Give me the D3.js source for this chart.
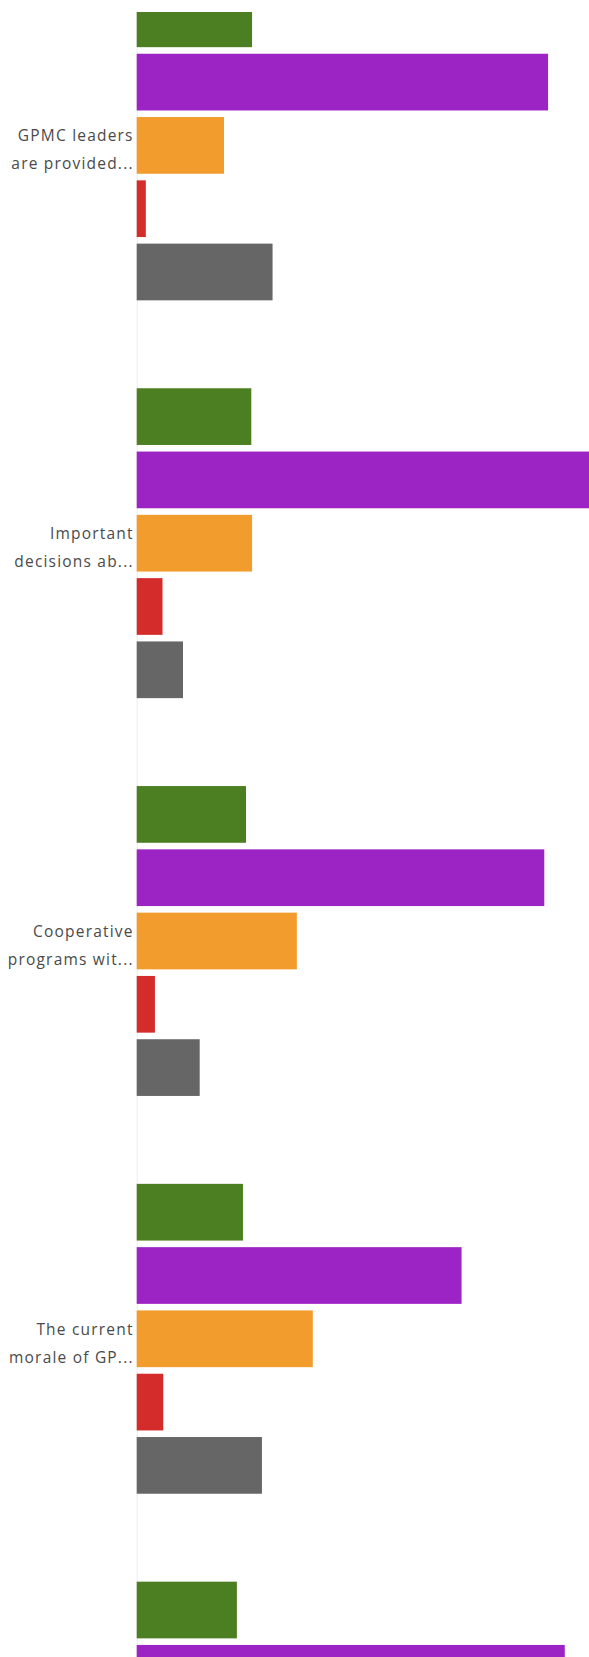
<!DOCTYPE html>
<html lang="en">
<head>
<meta charset="UTF-8">
<title>Survey responses</title>
<script src="https://d3js.org/d3.v7.min.js"></script>
<style>
  body { margin: 0; background: #fff; }
  .qlabel { font-family: 'Open Sans', sans-serif; font-size: 15.5px; fill: #4a4a4a; letter-spacing: 1.2px; }
</style>
</head>
<body>
<div id="chart"></div>
<script>
// question labels, cut short on two lines like the original
var labelTop = ["GPMC leaders", "Important", "Cooperative", "The current", ""];
var labelBottom = ["are provided...", "decisions ab...", "programs wit...", "morale of GP...", ""];
var questions = ["q1", "q2", "q3", "q4", "q5"];

// answer options and their colours
var answers = ["Strongly agree", "Agree", "Disagree", "Strongly disagree", "Don't know"];
var colors = ["#4c7f22", "#9c24c4", "#f29c2e", "#d42b2b", "#666666"];

// share of respondents per question, in percent
var stronglyAgree    = [15.2, 15.1, 14.4, 14.0, 13.2];
var agree            = [54.2, 60.2, 53.7, 42.8, 56.4];
var disagree         = [11.5, 15.2, 21.1, 23.2, 14.1];
var stronglyDisagree = [1.2, 3.4, 2.4, 3.5, 2.4];
var dontKnow         = [17.9, 6.1, 8.3, 16.5, 13.9];

var series = [stronglyAgree, agree, disagree, stronglyDisagree, dontKnow];

// one row per bar
var rows = [];
questions.forEach(function(q, i) {
  answers.forEach(function(a, j) {
    rows.push({question: q, answer: a, pct: series[j][i]});
  });
});

var width = 589, height = 1657;
var plotLeft = 136.7;   // where the bars start
var plotTop = 12;       // chart is scrolled: everything above this is hidden

var svg = d3.select("#chart")
  .append("svg")
    .attr("width", width)
    .attr("height", height);

svg.append("defs").append("clipPath")
    .attr("id", "plot")
  .append("rect")
    .attr("x", 0)
    .attr("y", plotTop)
    .attr("width", width)
    .attr("height", height - plotTop);

var x = d3.scaleLinear()
  .domain([0, 100])
  .range([plotLeft, plotLeft + 759]);

// outer band: questions, inner band: answers
var y0 = d3.scaleBand()
  .domain(questions)
  .range([-53.5, -53.5 + 5 * 397.8])
  .paddingInner(0.221)
  .paddingOuter(0.1105);

var y1 = d3.scaleBand()
  .domain(answers)
  .range([0, y0.bandwidth()])
  .paddingInner(0.104);

var color = d3.scaleOrdinal()
  .domain(answers)
  .range(colors);

var plot = svg.append("g").attr("clip-path", "url(#plot)");

// faint axis line
plot.append("g")
    .attr("transform", "translate(" + plotLeft + ",0)")
    .call(d3.axisLeft(y0).tickSize(0).tickFormat(""))
    .call(function(g) { g.select(".domain").attr("stroke", "#ececec"); });

// bars
plot.append("g")
  .selectAll("rect")
  .data(rows)
  .enter()
  .append("rect")
    .attr("x", x(0))
    .attr("y", function(d) { return y0(d.question) + y1(d.answer); })
    .attr("width", function(d) { return x(d.pct) - x(0); })
    .attr("height", y1.bandwidth())
    .attr("fill", function(d) { return color(d.answer); });

// two-line question labels
var labels = plot.append("g")
  .selectAll("text")
  .data(questions)
  .enter()
  .append("text")
    .attr("class", "qlabel")
    .attr("text-anchor", "end")
    .attr("x", plotLeft - 3)
    .attr("y", function(d) { return y0(d) + y0.bandwidth() / 2; });

labels.append("tspan")
    .attr("x", plotLeft - 3)
    .attr("dy", -4)
    .text(function(d, i) { return labelTop[i]; });

labels.append("tspan")
    .attr("x", plotLeft - 3)
    .attr("dy", 28)
    .text(function(d, i) { return labelBottom[i]; });
</script>
</body>
</html>
